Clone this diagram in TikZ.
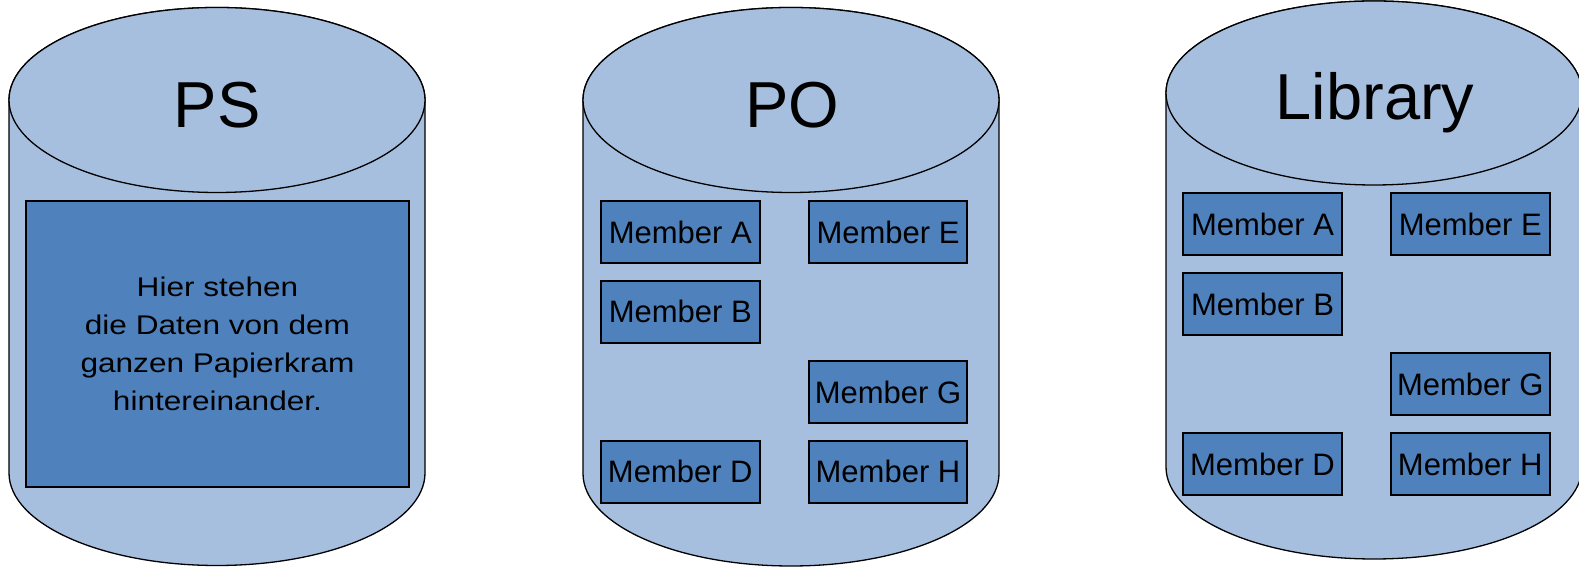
\documentclass[tikz,border=0pt]{standalone}
\usepackage{fontspec}
\setmainfont{Liberation Sans}
\newfontfamily\stretchfont[FakeStretch=1.17]{Liberation Sans}
\definecolor{cylfill}{HTML}{A7BFDE}
\definecolor{boxfill}{HTML}{4F81BD}
\begin{document}
\begin{tikzpicture}[x=1pt,y=1pt,
  cyl/.style={fill=cylfill, draw=black, line width=1.3pt},
  member/.style={draw=black, fill=boxfill, line width=2pt, minimum width=158.7pt,
    minimum height=62pt, inner sep=0pt, font=\fontsize{31}{37}\selectfont},
  bigbox/.style={draw=black, fill=boxfill, line width=2pt, minimum width=383pt,
    minimum height=286pt, inner sep=0pt, align=center,
    font=\stretchfont\fontsize{27}{38}\selectfont},
  title/.style={anchor=base, inner sep=0pt, font=\fontsize{65}{78}\selectfont}]
\useasboundingbox (0,0) rectangle (1579,567);

% PS cylinder
\draw[cyl] (9,467) -- (9,94) arc[start angle=180,end angle=360,x radius=208pt,y radius=92.5pt]
  -- (425,467) arc[start angle=0,end angle=180,x radius=208pt,y radius=92.5pt] -- cycle;
\draw[cyl] (217,467) ellipse [x radius=208pt, y radius=92.5pt];
\node[title] (psT) at (217,439.3) {PS};
\node[bigbox] (psBox) at (217.5,223) {Hier stehen\\die Daten von dem\\ganzen Papierkram\\hintereinander.};

% PO cylinder
\draw[cyl] (583,467) -- (583,93.5) arc[start angle=180,end angle=360,x radius=208pt,y radius=92.5pt]
  -- (999,467) arc[start angle=0,end angle=180,x radius=208pt,y radius=92.5pt] -- cycle;
\draw[cyl] (791,467) ellipse [x radius=208pt, y radius=92.5pt];
\node[title] (poT) at (792,439.3) {PO};
\node[member] (poA) at (680.3,335) {Member A};
\node[member] (poE) at (888,335) {Member E};
\node[member] (poB) at (680.3,255.3) {Member B};
\node[member] (poG) at (888,175) {Member G};
\node[member] (poD) at (680.3,95.3) {Member D};
\node[member] (poH) at (888,95.3) {Member H};

% Library cylinder
\draw[cyl] (1166,474) -- (1166,100) arc[start angle=180,end angle=360,x radius=208pt,y radius=92pt]
  -- (1582,474) arc[start angle=0,end angle=180,x radius=208pt,y radius=92pt] -- cycle;
\draw[cyl] (1374,474) ellipse [x radius=208pt, y radius=92pt];
\node[title] (libT) at (1375,447) {Library};
\node[member] (libA) at (1262.5,343) {Member A};
\node[member] (libE) at (1470.3,343) {Member E};
\node[member] (libB) at (1262.5,263) {Member B};
\node[member] (libG) at (1470.3,183) {Member G};
\node[member] (libD) at (1262.5,103) {Member D};
\node[member] (libH) at (1470.3,103) {Member H};
\end{tikzpicture}
\end{document}
